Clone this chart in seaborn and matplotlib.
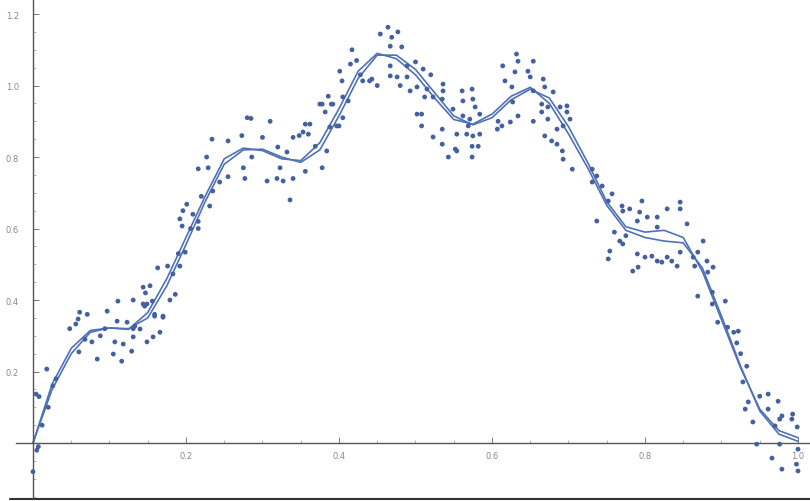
import seaborn as sns
import matplotlib.pyplot as plt
from matplotlib.ticker import MultipleLocator

# smooth fit curves, sampled every 0.025 along x
curve_x = [0.000, 0.025, 0.050, 0.075, 0.100, 0.125, 0.150, 0.175, 0.200, 0.225,
           0.250, 0.275, 0.300, 0.325, 0.350, 0.375, 0.400, 0.425, 0.450, 0.475,
           0.500, 0.525, 0.550, 0.575, 0.600, 0.625, 0.650, 0.675, 0.700, 0.725,
           0.750, 0.775, 0.800, 0.825, 0.850, 0.875, 0.900, 0.925, 0.950, 0.975,
           1.000]
fit_a = [0.000, 0.165, 0.265, 0.315, 0.322, 0.318, 0.365, 0.460, 0.575, 0.690,
         0.795, 0.825, 0.818, 0.795, 0.790, 0.840, 0.935, 1.040, 1.090, 1.075,
         1.030, 0.965, 0.905, 0.892, 0.920, 0.970, 0.995, 0.950, 0.865, 0.770,
         0.665, 0.595, 0.575, 0.565, 0.560, 0.490, 0.355, 0.215, 0.090, 0.025,
         0.005]
fit_b = [0.000, 0.150, 0.250, 0.310, 0.322, 0.320, 0.350, 0.440, 0.555, 0.675,
         0.780, 0.820, 0.822, 0.800, 0.785, 0.820, 0.915, 1.020, 1.085, 1.085,
         1.045, 0.980, 0.915, 0.890, 0.910, 0.960, 0.990, 0.965, 0.885, 0.785,
         0.675, 0.605, 0.590, 0.595, 0.575, 0.480, 0.345, 0.210, 0.095, 0.035,
         0.015]

# noisy samples
samples = [
    (0.000, -0.080), (0.005, -0.020), (0.007, -0.010), (0.004, 0.137), (0.008, 0.130),
    (0.018, 0.207), (0.026, 0.160), (0.030, 0.180), (0.048, 0.320), (0.056, 0.333),
    (0.012, 0.050), (0.020, 0.100),
    (0.061, 0.366), (0.071, 0.360), (0.059, 0.347), (0.097, 0.369), (0.110, 0.341),
    (0.111, 0.397), (0.123, 0.338), (0.077, 0.283), (0.060, 0.255), (0.084, 0.235),
    (0.105, 0.249), (0.116, 0.229), (0.107, 0.283), (0.118, 0.277), (0.129, 0.257),
    (0.131, 0.297), (0.133, 0.327), (0.140, 0.319), (0.149, 0.283), (0.157, 0.297),
    (0.166, 0.310), (0.149, 0.389), (0.159, 0.355), (0.170, 0.355), (0.156, 0.397),
    (0.144, 0.389), (0.088, 0.300), (0.094, 0.320), (0.068, 0.290),
    (0.131, 0.400), (0.146, 0.383), (0.144, 0.436), (0.153, 0.440), (0.147, 0.420),
    (0.179, 0.400), (0.186, 0.416), (0.159, 0.360), (0.170, 0.352), (0.131, 0.320),
    (0.163, 0.490), (0.176, 0.495), (0.192, 0.495), (0.183, 0.473), (0.190, 0.530),
    (0.199, 0.534), (0.192, 0.627), (0.195, 0.607), (0.196, 0.650), (0.201, 0.668),
    (0.209, 0.640), (0.216, 0.620), (0.216, 0.600), (0.206, 0.600), (0.220, 0.690),
    (0.231, 0.663), (0.235, 0.705), (0.244, 0.730), (0.216, 0.767), (0.229, 0.770),
    (0.227, 0.800), (0.234, 0.850), (0.255, 0.845), (0.255, 0.745), (0.273, 0.860),
    (0.280, 0.910), (0.285, 0.908), (0.300, 0.855), (0.310, 0.900),
    (0.275, 0.770), (0.277, 0.740), (0.286, 0.800), (0.306, 0.733), (0.319, 0.740),
    (0.327, 0.733), (0.340, 0.740), (0.336, 0.680), (0.323, 0.770), (0.320, 0.828),
    (0.332, 0.814), (0.356, 0.760), (0.378, 0.770), (0.384, 0.817), (0.340, 0.855),
    (0.353, 0.870), (0.362, 0.892), (0.348, 0.860), (0.405, 0.910), (0.400, 0.887),
    (0.378, 0.948), (0.390, 0.948), (0.412, 0.957), (0.356, 0.892), (0.360, 0.864),
    (0.375, 0.948), (0.386, 0.970), (0.392, 0.948), (0.382, 0.926), (0.405, 0.968),
    (0.397, 0.887), (0.388, 0.884), (0.369, 0.830),
    (0.464, 1.163), (0.454, 1.144), (0.477, 1.150), (0.469, 1.135), (0.417, 1.100),
    (0.467, 1.110), (0.482, 1.108), (0.423, 1.070), (0.401, 1.040), (0.404, 1.013),
    (0.431, 1.013), (0.440, 1.013), (0.450, 1.000), (0.467, 1.055), (0.467, 1.027),
    (0.476, 1.024), (0.480, 1.000), (0.489, 1.055), (0.500, 1.066), (0.510, 1.046),
    (0.520, 1.030), (0.489, 1.024), (0.502, 0.996), (0.493, 0.985), (0.515, 0.990),
    (0.512, 0.968), (0.523, 0.968), (0.536, 1.004), (0.536, 0.985), (0.535, 0.962),
    (0.502, 0.920), (0.508, 0.920), (0.508, 0.887), (0.523, 0.856), (0.535, 0.836),
    (0.543, 0.800), (0.552, 0.822), (0.535, 0.878), (0.549, 0.934), (0.443, 1.018),
    (0.428, 1.030), (0.415, 1.060),
    (0.561, 0.985), (0.562, 0.957), (0.574, 0.990), (0.575, 0.962), (0.578, 0.940),
    (0.562, 0.915), (0.571, 0.906), (0.584, 0.920), (0.569, 0.887), (0.554, 0.864),
    (0.567, 0.864), (0.575, 0.859), (0.584, 0.864), (0.574, 0.830), (0.582, 0.830),
    (0.554, 0.817), (0.574, 0.800), (0.608, 0.900), (0.613, 0.887), (0.624, 0.898),
    (0.607, 0.878), (0.634, 0.915), (0.614, 1.055), (0.632, 1.088), (0.634, 1.068),
    (0.654, 1.068), (0.617, 1.013), (0.630, 1.038), (0.647, 1.040), (0.650, 1.024),
    (0.667, 1.018), (0.626, 0.996), (0.627, 0.954), (0.654, 0.985), (0.669, 0.996),
    (0.680, 0.982), (0.665, 0.948), (0.673, 0.940), (0.665, 0.926), (0.689, 0.940),
    (0.698, 0.943), (0.698, 0.926), (0.654, 0.900), (0.673, 0.906), (0.685, 0.878),
    (0.693, 0.887), (0.702, 0.906), (0.669, 0.859), (0.678, 0.845), (0.685, 0.836),
    (0.692, 0.817), (0.693, 0.794), (0.705, 0.766), (0.731, 0.766), (0.737, 0.747),
    (0.731, 0.730),
    (0.744, 0.719), (0.757, 0.697), (0.752, 0.677), (0.770, 0.663), (0.771, 0.649),
    (0.780, 0.655), (0.796, 0.677), (0.793, 0.646), (0.790, 0.621), (0.803, 0.632),
    (0.816, 0.632), (0.829, 0.655), (0.846, 0.674), (0.846, 0.655), (0.855, 0.613),
    (0.816, 0.604), (0.737, 0.621), (0.771, 0.557), (0.754, 0.537), (0.752, 0.515),
    (0.790, 0.529), (0.800, 0.520), (0.809, 0.523), (0.816, 0.509), (0.822, 0.506),
    (0.829, 0.520), (0.835, 0.509), (0.842, 0.495), (0.784, 0.481), (0.791, 0.492),
    (0.846, 0.534), (0.863, 0.520), (0.865, 0.495), (0.876, 0.565), (0.869, 0.534),
    (0.881, 0.509), (0.889, 0.492), (0.882, 0.478), (0.869, 0.411), (0.888, 0.422),
    (0.888, 0.389), (0.905, 0.397), (0.895, 0.338), (0.908, 0.324), (0.922, 0.313),
    (0.916, 0.310), (0.767, 0.565), (0.775, 0.580), (0.760, 0.590),
    (0.933, 0.215), (0.928, 0.171), (0.950, 0.131), (0.961, 0.137), (0.974, 0.117),
    (0.931, 0.095), (0.935, 0.115), (0.961, 0.095), (0.979, 0.076), (0.976, 0.067),
    (0.993, 0.081), (0.992, 0.067), (0.999, 0.045), (0.941, 0.059), (0.970, 0.048),
    (0.946, -0.003), (0.966, -0.042), (0.979, -0.073), (0.998, -0.059), (1.000, -0.078),
    (1.000, -0.017), (0.976, -0.003), (0.925, 0.250), (0.920, 0.280),
]
sample_x = [p[0] for p in samples]
sample_y = [p[1] for p in samples]

x_ticks = [0.2, 0.4, 0.6, 0.8, 1.0]
x_labels = ["0.2", "0.4", "0.6", "0.8", "1.0"]
y_ticks = [0.2, 0.4, 0.6, 0.8, 1.0, 1.2]
y_labels = ["0.2", "0.4", "0.6", "0.8", "1.0", "1.2"]

sns.set_style("white")
plt.rcParams['font.family'] = ['DejaVu Sans']

fig = plt.figure(figsize=(8.1, 5.02), dpi=100)
ax = fig.add_axes([0, 0, 1, 1])

line_col = "#4f71b5"
dot_col = "#44609f"

sns.lineplot(x=curve_x, y=fit_a, ax=ax, color=line_col, lw=1.2, sort=False, estimator=None)
sns.lineplot(x=curve_x, y=fit_b, ax=ax, color=line_col, lw=1.2, sort=False, estimator=None)
sns.scatterplot(x=sample_x, y=sample_y, ax=ax, color=dot_col, s=12, edgecolor="none", zorder=3)

ax.set_xlim(-0.0431, 1.0157)
ax.set_ylim(-0.162, 1.242)

# mathematica-like axes crossing at the origin
for side in ["top", "right"]:
    ax.spines[side].set_visible(False)
ax.spines["left"].set_position(("data", 0))
ax.spines["bottom"].set_position(("data", 0))
ax.spines["bottom"].set_bounds(-0.022, 1.0157)
ax.spines["left"].set_bounds(-0.155, 1.242)
for side in ["left", "bottom"]:
    ax.spines[side].set_color("#555555")
    ax.spines[side].set_linewidth(1.0)

ax.set_xticks(x_ticks)
ax.set_xticklabels(x_labels)
ax.set_yticks(y_ticks)
ax.set_yticklabels(y_labels)
ax.xaxis.set_minor_locator(MultipleLocator(0.05))
ax.yaxis.set_minor_locator(MultipleLocator(0.05))
ax.tick_params(axis="both", which="both", bottom=True, left=True)
ax.tick_params(axis="both", which="major", direction="in", length=4, width=0.7,
               color="#777777", labelsize=6, labelcolor="#888888")
ax.tick_params(axis="both", which="minor", direction="in", length=2, width=0.5,
               color="#999999")
ax.tick_params(axis="y", which="major", pad=10)
ax.tick_params(axis="x", which="major", pad=6)

# scan border along the bottom
ax.plot([0.012, 1.0], [0.004, 0.004], transform=ax.transAxes, color="#333333",
        lw=1.5, clip_on=False)

fig.savefig("out.png", dpi=100)
